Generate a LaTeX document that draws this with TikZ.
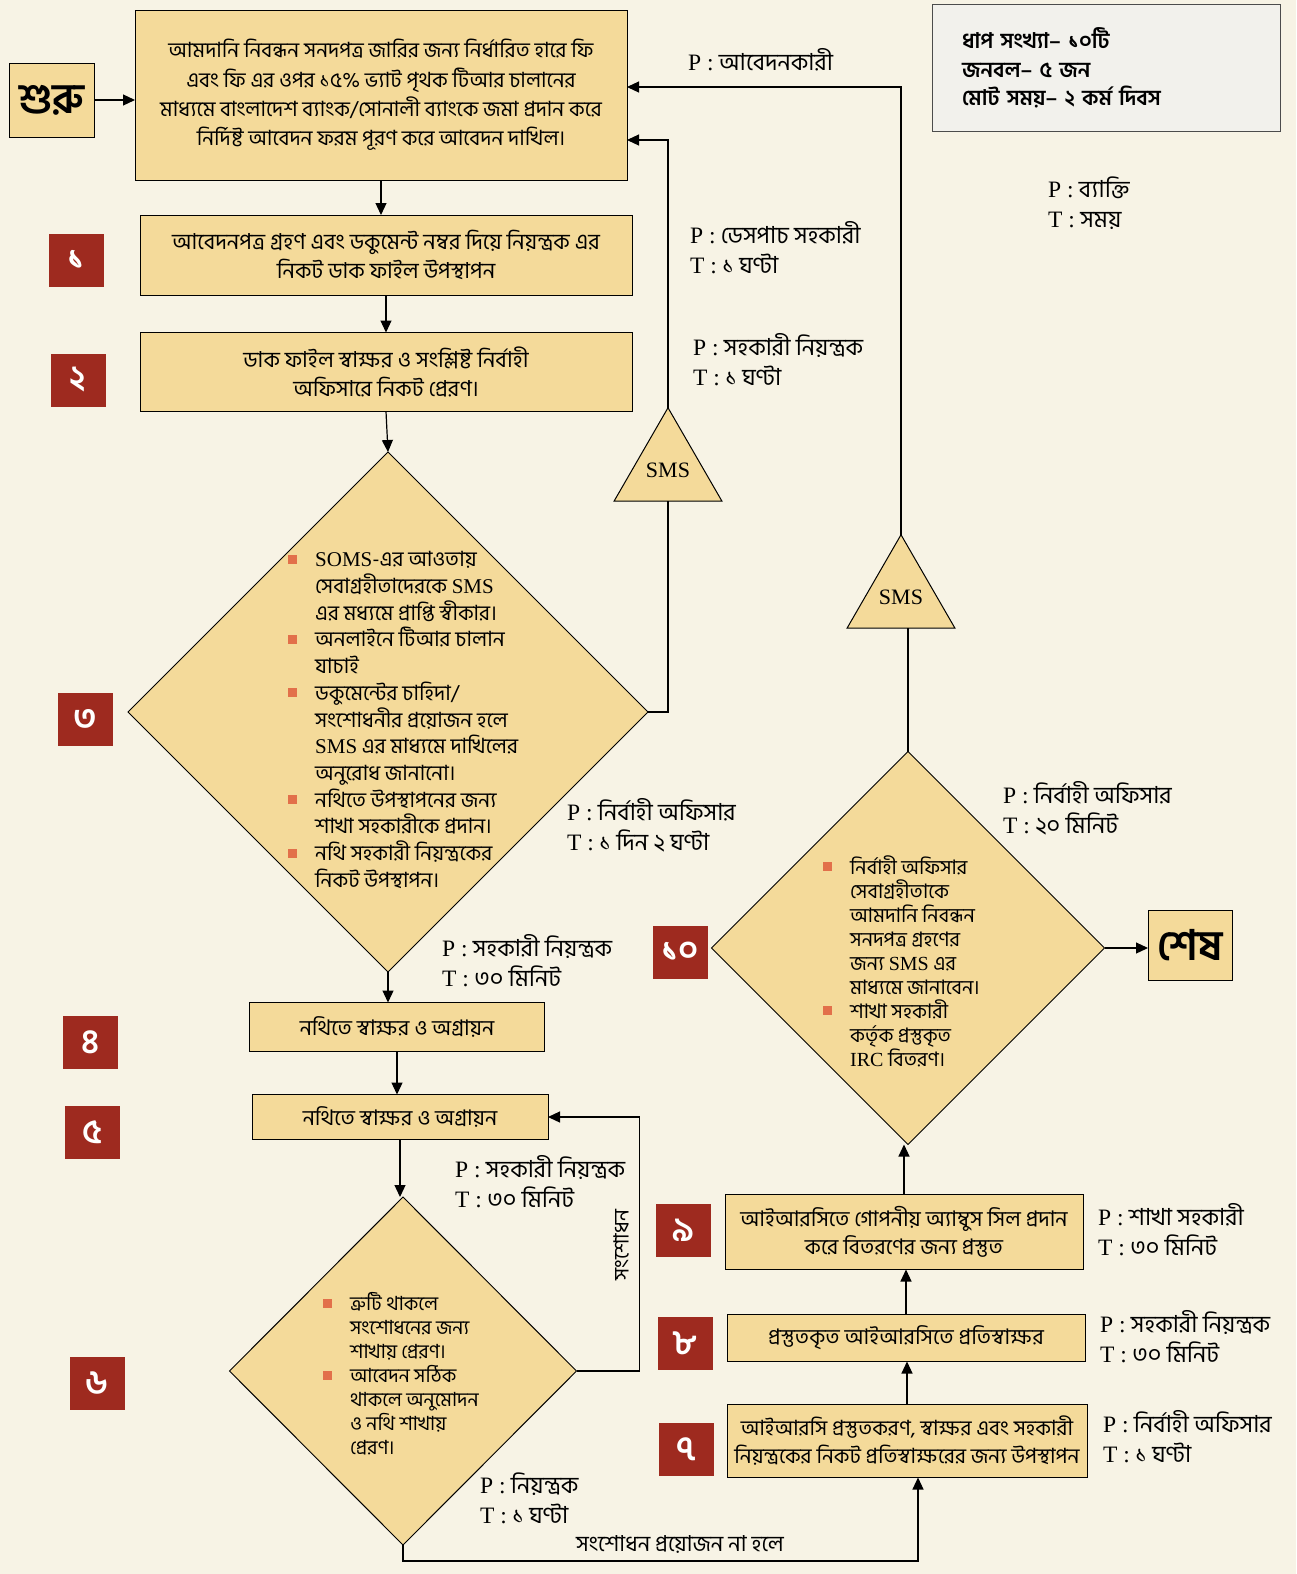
\documentclass[tikz,border=0pt]{standalone}
\usepackage{fontspec}
\setmainfont{Liberation Serif}
\newfontfamily\bn[Script=Bengali]{Hind Siliguri}
\newfontfamily\lat{Liberation Serif}
\usetikzlibrary{shapes.geometric,arrows.meta}

\definecolor{paper}{HTML}{F7F3E5}
\definecolor{boxfill}{HTML}{F4DA9A}
\definecolor{badgered}{HTML}{9E2A1F}
\definecolor{bulletc}{HTML}{E2704A}
\definecolor{infofill}{HTML}{F2F1EC}

\newcommand{\bulsq}{\makebox[27pt][l]{\textcolor{bulletc}{\rule[3pt]{9pt}{9pt}}}}
\newcommand{\bulgap}{\hspace*{27pt}}
\newcommand{\pandt}[2]{{\lat P :} #1\\{\lat T :} #2}

\tikzset{
  box/.style={draw, fill=boxfill, line width=1pt, align=center, inner sep=0pt, outer sep=0pt, font=\bn\fontsize{22}{29}\selectfont},
  badge/.style={fill=badgered, text=white, minimum width=55, minimum height=53, inner sep=0pt, font=\bn\bfseries\fontsize{34}{34}\selectfont},
  dia/.style={draw, diamond, fill=boxfill, line width=1pt, inner sep=0pt, outer sep=0pt},
  dtext/.style={anchor=west, align=left, inner sep=0pt},
  sms/.style={draw, fill=boxfill, line width=1pt, regular polygon, regular polygon sides=3, minimum size=124, inner sep=0pt, outer sep=0pt, font=\lat\fontsize{22}{22}\selectfont},
  lbl/.style={anchor=west, align=left, inner sep=0pt, font=\bn\fontsize{23.5}{30}\selectfont},
  con/.style={line width=1.2pt},
  arr/.style={con, -{Triangle[length=12pt,width=11pt]}},
}

\begin{document}
\begin{tikzpicture}[x=1pt, y=-1pt]
\useasboundingbox (0,0) rectangle (1296,1574);
\fill[paper] (0,0) rectangle (1296,1574);

%left column
\node[box, minimum width=85, minimum height=74, font=\bn\bfseries\fontsize{42}{42}\selectfont] (start) at (52,100) {শুরু};
\node[box, minimum width=492, minimum height=170, font=\bn\fontsize{21}{29.3}\selectfont] (top) at (381,95) {আমদানি নিবন্ধন সনদপত্র জারির জন্য নির্ধারিত হারে ফি\\এবং ফি এর ওপর ১৫\% ভ্যাট পৃথক টিআর চালানের\\মাধ্যমে বাংলাদেশ ব্যাংক/সোনালী ব্যাংকে জমা প্রদান করে\\নির্দিষ্ট আবেদন ফরম পূরণ করে আবেদন দাখিল।};
\node[box, minimum width=492, minimum height=80] (b1) at (386,255) {আবেদনপত্র গ্রহণ এবং ডকুমেন্ট নম্বর দিয়ে নিয়ন্ত্রক এর\\নিকট ডাক ফাইল উপস্থাপন};
\node[box, minimum width=492, minimum height=79] (b2) at (386,372) {ডাক ফাইল স্বাক্ষর ও সংশ্লিষ্ট নির্বাহী\\অফিসারে নিকট প্রেরণ।};
\node[dia, minimum width=520, minimum height=520] (d3) at (388,712) {};
\node[dtext, font=\bn\fontsize{21}{26.7}\selectfont] (t3) at (288,720) {\bulsq{\lat SOMS}-এর আওতায়\\
\bulgap সেবাগ্রহীতাদেরকে {\lat SMS}\\
\bulgap এর মধ্যমে প্রাপ্তি স্বীকার।\\
\bulsq অনলাইনে টিআর চালান\\
\bulgap যাচাই\\
\bulsq ডকুমেন্টের চাহিদা/\\
\bulgap সংশোধনীর প্রয়োজন হলে\\
\bulgap {\lat SMS} এর মাধ্যমে দাখিলের\\
\bulgap অনুরোধ জানানো।\\
\bulsq নথিতে উপস্থাপনের জন্য\\
\bulgap শাখা সহকারীকে প্রদান।\\
\bulsq নথি সহকারী নিয়ন্ত্রকের\\
\bulgap নিকট উপস্থাপন।};
\node[box, minimum width=295, minimum height=49, font=\bn\fontsize{21.5}{28}\selectfont] (b4) at (397,1027) {নথিতে স্বাক্ষর ও অগ্রায়ন};
\node[box, minimum width=296, minimum height=45, font=\bn\fontsize{21.5}{28}\selectfont] (b5) at (400,1117) {নথিতে স্বাক্ষর ও অগ্রায়ন};
\node[dia, minimum width=347, minimum height=348] (d6) at (403,1371) {};
\node[dtext, font=\bn\fontsize{19.5}{24}\selectfont] (t6) at (323,1374) {\bulsq ত্রুটি থাকলে\\
\bulgap সংশোধনের জন্য\\
\bulgap শাখায় প্রেরণ।\\
\bulsq আবেদন সঠিক\\
\bulgap থাকলে অনুমোদন\\
\bulgap ও নথি শাখায়\\
\bulgap প্রেরণ।};

%right column
\node[sms] (sms1) at (668,470) {SMS};
\node[sms] (sms2) at (901,597) {SMS};
\node[dia, minimum width=393, minimum height=393] (d10) at (908,948) {};
\node[dtext, font=\bn\fontsize{20}{24}\selectfont] (t10) at (823,961) {\bulsq নির্বাহী অফিসার\\
\bulgap সেবাগ্রহীতাকে\\
\bulgap আমদানি নিবন্ধন\\
\bulgap সনদপত্র গ্রহণের\\
\bulgap জন্য {\lat SMS} এর\\
\bulgap মাধ্যমে জানাবেন।\\
\bulsq শাখা সহকারী\\
\bulgap কর্তৃক প্রস্তুকৃত\\
\bulgap {\lat IRC} বিতরণ।};
\node[box, minimum width=84, minimum height=70, font=\bn\bfseries\fontsize{42}{42}\selectfont] (end) at (1190,945) {শেষ};
\node[box, minimum width=358, minimum height=75, font=\bn\fontsize{21.5}{28}\selectfont] (b9) at (904,1232) {আইআরসিতে গোপনীয় অ্যাম্বুস সিল প্রদান\\করে বিতরণের জন্য প্রস্তুত};
\node[box, minimum width=358, minimum height=47, font=\bn\fontsize{21.5}{28}\selectfont] (b8) at (906,1338) {প্রস্তুতকৃত আইআরসিতে প্রতিস্বাক্ষর};
\node[box, minimum width=360, minimum height=73, font=\bn\fontsize{21}{28}\selectfont] (b7) at (907,1441) {আইআরসি প্রস্তুতকরণ, স্বাক্ষর এবং সহকারী\\নিয়ন্ত্রকের নিকট প্রতিস্বাক্ষরের জন্য উপস্থাপন};

%badges
\node[badge] (n1) at (76,260) {১};
\node[badge] (n2) at (78,380) {২};
\node[badge] (n3) at (85,719) {৩};
\node[badge] (n4) at (90,1042) {৪};
\node[badge] (n5) at (92,1132) {৫};
\node[badge] (n6) at (97,1383) {৬};
\node[badge] (n7) at (686,1449) {৭};
\node[badge] (n8) at (685,1343) {৮};
\node[badge] (n9) at (683,1230) {৯};
\node[badge] (n10) at (680,952) {১০};

%info
\node[draw=black!70, fill=infofill, line width=1pt, text width=288, inner xsep=30, minimum height=127, align=left, font=\bn\bfseries\fontsize{21.5}{28.5}\selectfont] (info) at (1106,68) {ধাপ সংখ্যা– ১০টি\\জনবল– ৫ জন\\মোট সময়– ২ কর্ম দিবস};
\node[lbl] (key) at (1048,203) {\pandt{ব্যাক্তি}{সময়}};

%P T
\node[lbl] (p0) at (688,60) {{\lat P :} আবেদনকারী};
\node[lbl] (p1) at (690,248) {\pandt{ডেসপাচ সহকারী}{১ ঘণ্টা}};
\node[lbl] (p2) at (693,360) {\pandt{সহকারী নিয়ন্ত্রক}{১ ঘণ্টা}};
\node[lbl] (p3) at (567,825) {\pandt{নির্বাহী অফিসার}{১ দিন ২ ঘণ্টা}};
\node[lbl] (p4) at (442,961) {\pandt{সহকারী নিয়ন্ত্রক}{৩০ মিনিট}};
\node[lbl] (p5) at (455,1182) {\pandt{সহকারী নিয়ন্ত্রক}{৩০ মিনিট}};
\node[lbl] (p6) at (480,1498) {\pandt{নিয়ন্ত্রক}{১ ঘণ্টা}};
\node[lbl] (p10) at (1003,808) {\pandt{নির্বাহী অফিসার}{২০ মিনিট}};
\node[lbl] (p9) at (1098,1230) {\pandt{শাখা সহকারী}{৩০ মিনিট}};
\node[lbl] (p8) at (1100,1337) {\pandt{সহকারী নিয়ন্ত্রক}{৩০ মিনিট}};
\node[lbl] (p7) at (1103,1437) {\pandt{নির্বাহী অফিসার}{১ ঘণ্টা}};

%connectors
\draw[arr] (start.east) -- (start.east -| top.west);
\draw[arr] (top.south) -- (top.south |- b1.north);
\draw[arr] (b1.south) -- (b2.north);
\draw[arr] (b2.south) -- (d3.north);
\draw[con] (d3.east) -| (sms1.south);
\draw[arr] (sms1.north) |- ([yshift=-45pt]top.east);
\draw[arr] (sms2.north) |- ([yshift=8pt]top.east);
\draw[arr] (d3.south) -- (d3.south |- b4.north);
\draw[arr] (b4.south) -- (b4.south |- b5.north);
\draw[arr] (b5.south) -- (b5.south |- d6.north);
\draw[arr] (d6.east) -- ++(63,0) |- (b5.east);
\node[inner sep=0pt, rotate=90, font=\bn\fontsize{21}{21}\selectfont] (fix) at (621,1245) {সংশোধন};
\coordinate (low) at (403,1561);
\draw[arr] (d6.south) -- (low) -| ([xshift=11pt]b7.south);
\node[inner sep=0pt, font=\bn\fontsize{22}{22}\selectfont] (nofix) at (680,1544) {সংশোধন প্রয়োজন না হলে};
\draw[arr] (b7.north) -- (b7.north |- b8.south);
\draw[arr] (b8.north) -- (b8.north |- b9.south);
\draw[arr] (b9.north) -- (b9.north |- d10.south);
\draw[con] (d10.north) -- (d10.north |- sms2.south);
\draw[arr] (d10.east) -- (d10.east -| end.west);
\end{tikzpicture}
\end{document}
